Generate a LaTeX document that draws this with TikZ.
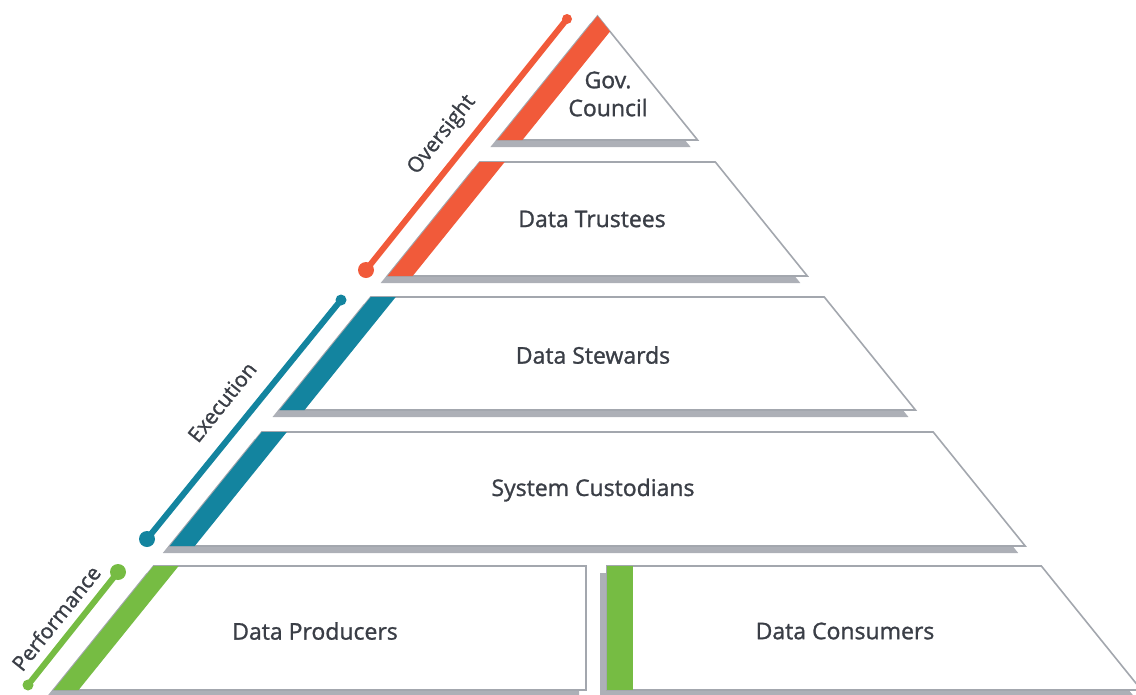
\documentclass[tikz,border=0pt]{standalone}
\usepackage{fontspec}
\setmainfont{Open Sans}[FakeBold=1.2]
\usepackage{tikz}
\usetikzlibrary{positioning}
\usepackage{xcolor}

\definecolor{oversightorange}{HTML}{F15A3A}
\definecolor{executionteal}{HTML}{13849F}
\definecolor{performancegreen}{HTML}{76BC43}
\definecolor{edgegrey}{HTML}{A3A7AE}
\definecolor{shadowgrey}{HTML}{ADB0B7}
\definecolor{labelgrey}{HTML}{3A3E46}

\begin{document}
\begin{tikzpicture}[x=1pt,y=-1pt, declare function={ lx(\y) =
    597.5-0.807*(\y-16); rx(\y) = 597.5+0.807*(\y-16); },
  tier/.style={fill=white,draw=edgegrey,line width=1.6pt},
  dropshadow/.style={fill=shadowgrey,shift={(-7,7)}},
  tiertext/.style={font=\fontsize{23}{28}\selectfont,text=labelgrey,align=center},
  sidetext/.style={font=\fontsize{21}{24}\selectfont,text=labelgrey,rotate=51.3},
  sidebar/.style={line width=6pt}]

  \useasboundingbox (0,0) rectangle (1136,694);

  % Gov. Council
  \fill[dropshadow] (597.5,16) -- ({rx(140)},140) -- ({lx(140)},140) -- cycle;
  \draw[tier] (597.5,16) -- ({rx(140)},140) -- ({lx(140)},140) -- cycle;
  \fill[oversightorange] (597.5,16) -- (610,31.5) -- ({lx(140)+25},140) -- ({lx(140)},140) -- cycle;
  \node[tiertext] (gov) at (608,94) {Gov.\\Council};

  % the trapezoid tiers
  \def \t {162} \def \b {276}
  \fill[dropshadow] ({lx(\t)},\t) -- ({rx(\t)},\t) -- ({rx(\b)},\b) -- ({lx(\b)},\b) -- cycle;
  \draw[tier] ({lx(\t)},\t) -- ({rx(\t)},\t) -- ({rx(\b)},\b) -- ({lx(\b)},\b) -- cycle;
  \fill[oversightorange] ({lx(\t)},\t) -- ({lx(\t)+25},\t) -- ({lx(\b)+25},\b) -- ({lx(\b)},\b) -- cycle;
  \node[tiertext] (trustees) at (592,219) {Data Trustees};

  \def \t {297} \def \b {410}
  \fill[dropshadow] ({lx(\t)},\t) -- ({rx(\t)},\t) -- ({rx(\b)},\b) -- ({lx(\b)},\b) -- cycle;
  \draw[tier] ({lx(\t)},\t) -- ({rx(\t)},\t) -- ({rx(\b)},\b) -- ({lx(\b)},\b) -- cycle;
  \fill[executionteal] ({lx(\t)},\t) -- ({lx(\t)+25},\t) -- ({lx(\b)+25},\b) -- ({lx(\b)},\b) -- cycle;
  \node[tiertext] (stewards) at (593,355) {Data Stewards};

  \def \t {432} \def \b {546}
  \fill[dropshadow] ({lx(\t)},\t) -- ({rx(\t)},\t) -- ({rx(\b)},\b) -- ({lx(\b)},\b) -- cycle;
  \draw[tier] ({lx(\t)},\t) -- ({rx(\t)},\t) -- ({rx(\b)},\b) -- ({lx(\b)},\b) -- cycle;
  \fill[executionteal] ({lx(\t)},\t) -- ({lx(\t)+25},\t) -- ({lx(\b)+25},\b) -- ({lx(\b)},\b) -- cycle;
  \node[tiertext] (custodians) at (593,490) {System Custodians};

  % bottom tier, split in two
  \def \t {566} \def \b {690}
  \fill[dropshadow] ({lx(\t)},\t) -- (586,\t) -- (586,\b) -- ({lx(\b)},\b) -- cycle;
  \draw[tier] ({lx(\t)},\t) -- (586,\t) -- (586,\b) -- ({lx(\b)},\b) -- cycle;
  \fill[performancegreen] ({lx(\t)},\t) -- ({lx(\t)+25},\t) -- ({lx(\b)+25},\b) -- ({lx(\b)},\b) -- cycle;
  \node[tiertext] (producers) at (315,631) {Data Producers};

  \fill[dropshadow] (607,\t) -- ({rx(\t)},\t) -- ({rx(\b)},\b) -- (607,\b) -- cycle;
  \draw[tier] (607,\t) -- ({rx(\t)},\t) -- ({rx(\b)},\b) -- (607,\b) -- cycle;
  \fill[performancegreen] (607,\t) rectangle (633,\b);
  \node[tiertext] (consumers) at (845,631) {Data Consumers};

  % side bars
  \coordinate (ovtop) at (567,19);
  \coordinate (ovbot) at (366,270);
  \draw[sidebar,oversightorange] (ovbot) -- (ovtop);
  \fill[oversightorange] (ovtop) circle (5pt) (ovbot) circle (8pt);
  \node[sidetext] (oversight) at (442,135) {Oversight};

  \coordinate (extop) at (341,300);
  \coordinate (exbot) at (147,539);
  \draw[sidebar,executionteal] (exbot) -- (extop);
  \fill[executionteal] (extop) circle (5.5pt) (exbot) circle (8pt);
  \node[sidetext] (execution) at (222,402) {Execution};

  \coordinate (pftop) at (118,572);
  \coordinate (pfbot) at (28,685);
  \draw[sidebar,performancegreen] (pfbot) -- (pftop);
  \fill[performancegreen] (pftop) circle (8pt) (pfbot) circle (5.5pt);
  \node[sidetext] (performance) at (56,618) {Performance};

\end{tikzpicture}
\end{document}
